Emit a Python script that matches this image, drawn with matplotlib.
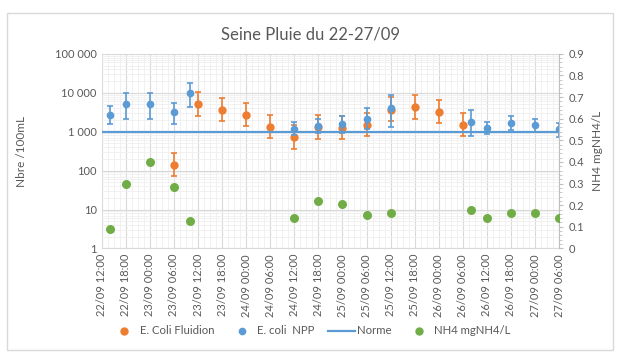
import matplotlib
matplotlib.use('Agg')
import matplotlib.pyplot as plt
from matplotlib import rcParams
from matplotlib.patches import Rectangle
from matplotlib.lines import Line2D
from matplotlib.ticker import FixedLocator, MultipleLocator, LogLocator, NullFormatter

rcParams['font.family'] = ['Lato', 'DejaVu Sans']
rcParams['font.size'] = 8

# heures depuis le 22/09 12:00
tick_labels = ['22/09 12:00', '22/09 18:00', '23/09 00:00', '23/09 06:00', '23/09 12:00',
               '23/09 18:00', '24/09 00:00', '24/09 06:00', '24/09 12:00', '24/09 18:00',
               '25/09 00:00', '25/09 06:00', '25/09 12:00', '25/09 18:00', '26/09 00:00',
               '26/09 06:00', '26/09 12:00', '26/09 18:00', '27/09 00:00', '27/09 06:00']

fluidion_h = [18, 24, 30, 36, 42, 48, 54, 60, 66, 72, 78, 84, 90]
fluidion = [140, 5100, 3700, 2750, 1300, 720, 1350, 1230, 1500, 3630, 4420, 3220, 1520]
fluidion_lo = [74, 2500, 1860, 1380, 680, 360, 660, 660, 780, 1900, 2170, 1660, 780]
fluidion_hi = [280, 10400, 7550, 5600, 2700, 1500, 2750, 2550, 3090, 7700, 8700, 6440, 3090]

npp_h = [2, 6, 12, 18, 22, 48, 54, 60, 66, 72, 92, 96, 102, 108, 114]
npp = [2750, 5190, 5190, 3170, 9770, 1200, 1410, 1590, 2100, 4170, 1810, 1270, 1660, 1500, 1160]
npp_lo = [1620, 2140, 2140, 1620, 4420, 800, 950, 920, 1150, 1350, 780, 880, 1110, 1000, 750]
npp_hi = [4680, 9770, 9770, 5400, 18200, 1810, 2140, 2550, 3990, 8700, 3630, 1810, 2550, 2140, 1660]

norme = 1000

nh4_h = [2, 6, 12, 18, 22, 48, 54, 60, 66, 72, 92, 96, 102, 108, 114]
nh4 = [0.09, 0.30, 0.40, 0.285, 0.125, 0.14, 0.22, 0.205, 0.155, 0.165, 0.18, 0.14, 0.165, 0.165, 0.14]

c_orange = '#ED7D31'
c_blue = '#5B9BD5'
c_green = '#70AD47'
c_text = '#595959'
c_grid = '#d9d9d9'
c_minor = '#efefef'

fig = plt.figure(figsize=(6.24, 3.59), dpi=100)
fig.patches.append(Rectangle((7 / 624, 1 - 350 / 359), 606 / 624, 337 / 359,
                             transform=fig.transFigure, fill=False,
                             edgecolor='#d9d9d9', linewidth=1))

ax = fig.add_axes([0.163, 0.308, 0.733, 0.542])
ax.set_yscale('log')
ax.set_ylim(1, 100000)
ax.set_xlim(0, 114)

def yerr(vals, lo, hi):
    return [[v - l for v, l in zip(vals, lo)], [h - v for v, h in zip(vals, hi)]]

ax.errorbar(fluidion_h, fluidion, yerr=yerr(fluidion, fluidion_lo, fluidion_hi),
            fmt='o', color=c_orange, ms=5, elinewidth=1.2, capsize=2, capthick=1.2,
            zorder=3)
ax.errorbar(npp_h, npp, yerr=yerr(npp, npp_lo, npp_hi),
            fmt='o', color=c_blue, ms=4.5, elinewidth=1.2, capsize=2, capthick=1.2,
            zorder=4)
ax.plot([0, 114], [norme, norme], color=c_blue, lw=1.6, zorder=5)

ax.set_xticks(range(0, 115, 6))
ax.set_xticklabels(tick_labels, rotation=90)
ax.xaxis.set_minor_locator(MultipleLocator(1.5))

ax.yaxis.set_major_locator(FixedLocator([1, 10, 100, 1000, 10000, 100000]))
ax.set_yticklabels(['1', '10', '100', '1 000', '10 000', '100 000'])
ax.yaxis.set_minor_locator(LogLocator(base=10, subs=range(2, 10)))
ax.yaxis.set_minor_formatter(NullFormatter())

ax.grid(which='major', color=c_grid, lw=0.8)
ax.grid(which='minor', color=c_minor, lw=0.6)
ax.set_axisbelow(True)
ax.tick_params(which='both', length=0, colors=c_text, labelsize=8)
ax.tick_params(axis='x', pad=4)
for s in ['top', 'right', 'left']:
    ax.spines[s].set_visible(False)
ax.spines['bottom'].set_color(c_grid)
ax.set_ylabel('Nbre /100mL', color=c_text, fontsize=8.5, labelpad=20)

ax2 = ax.twinx()
ax2.scatter(nh4_h, nh4, color=c_green, s=30, zorder=3)
ax2.set_ylim(0, 0.9)
ax2.set_yticks([i / 10 for i in range(10)])
ax2.set_yticklabels(['0', '0.1', '0.2', '0.3', '0.4', '0.5', '0.6', '0.7', '0.8', '0.9'])
ax2.yaxis.set_minor_locator(MultipleLocator(0.02))
ax2.tick_params(which='major', length=3, color='#bfbfbf', labelcolor=c_text, labelsize=8)
ax2.tick_params(which='minor', length=2, color='#bfbfbf')
for s in ['top', 'left', 'bottom']:
    ax2.spines[s].set_visible(False)
ax2.spines['right'].set_color('#bfbfbf')
ax2.set_ylabel('NH4 mgNH4/L', color=c_text, fontsize=8.5, labelpad=6)

fig.text(0.497, 0.905, 'Seine Pluie du 22-27/09', ha='center', va='center',
         fontsize=12, color=c_text)

handles = [
    Line2D([], [], ls='none', marker='o', ms=5, color=c_orange),
    Line2D([], [], ls='none', marker='o', ms=4.5, color=c_blue),
    Line2D([], [], color=c_blue, lw=1.6),
    Line2D([], [], ls='none', marker='o', ms=5, color=c_green),
]
labels = ['E. Coli Fluidion', 'E. coli  NPP', 'Norme', 'NH4 mgNH4/L']
leg = fig.legend(handles, labels, loc='center', bbox_to_anchor=(0.498, 0.078), ncol=4,
                 frameon=False, fontsize=8.2, handlelength=2.4, columnspacing=1.2,
                 handletextpad=0.15)
for t in leg.get_texts():
    t.set_color(c_text)

fig.savefig('out.png', dpi=100)
